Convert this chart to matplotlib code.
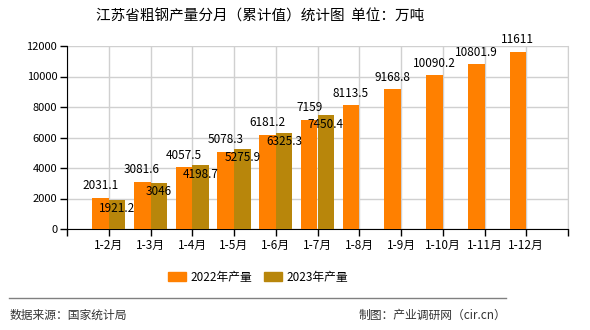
import matplotlib
matplotlib.use("Agg")
import matplotlib.pyplot as plt
from matplotlib.patches import Patch
import numpy as np

plt.rcParams['font.family'] = ['Noto Sans CJK SC', 'DejaVu Sans']

categories = ["1-2月", "1-3月", "1-4月", "1-5月", "1-6月", "1-7月", "1-8月", "1-9月", "1-10月", "1-11月", "1-12月"]
values_2022 = [2031.1, 3081.6, 4057.5, 5078.3, 6181.2, 7159, 8113.5, 9168.8, 10090.2, 10801.9, 11611]
values_2023 = [1921.2, 3046, 4198.7, 5275.9, 6325.3, 7450.4]
labels_2022 = ["2031.1", "3081.6", "4057.5", "5078.3", "6181.2", "7159", "8113.5", "9168.8", "10090.2", "10801.9", "11611"]
labels_2023 = ["1921.2", "3046", "4198.7", "5275.9", "6325.3", "7450.4"]
series_names = ["2022年产量", "2023年产量"]
yticks = [0, 2000, 4000, 6000, 8000, 10000, 12000]

c22 = "#FF8000"
c23 = "#B8860B"

fig = plt.figure(figsize=(5.9, 3.3), dpi=100)
ax = fig.add_axes([67/590, 1-229/330, 501/590, 183/330])

x = np.arange(len(categories))
w = 0.4
ax.bar(x - w/2, values_2022, w, color=c22, zorder=3)
x23 = np.arange(len(values_2023))
ax.bar(x23 + w/2, values_2023, w, color=c23, zorder=3)

ax.set_xlim(-1, len(categories))
ax.set_ylim(0, 12000)
ax.set_yticks(yticks)
ax.set_yticklabels([str(t) for t in yticks], fontsize=8)
ax.set_xticks(np.arange(-1, len(categories) + 1))
ax.set_xticklabels([""] + categories + [""], fontsize=8.5)
ax.tick_params(axis='both', length=5, width=1, color='black', pad=2)
ax.grid(True, color="#d0d0d0", linewidth=1, zorder=0)
ax.spines["top"].set_visible(False)
ax.spines["right"].set_color("#d0d0d0")
ax.spines["left"].set_color("black")
ax.spines["bottom"].set_color("black")

for i, (v, lab) in enumerate(zip(values_2022, labels_2022)):
    ax.annotate(lab, (x[i] - w/2, v), xytext=(0, 4), textcoords="offset points",
                ha="center", va="bottom", fontsize=8.5, zorder=5)
for i, (v, lab) in enumerate(zip(values_2023, labels_2023)):
    ax.annotate(lab, (x23[i] + w/2, v), xytext=(0, -2), textcoords="offset points",
                ha="center", va="top", fontsize=8.5, zorder=5)

fig.text(260/590, 1-17/330, "江苏省粗钢产量分月（累计值）统计图  单位：万吨", ha="center", va="center", fontsize=10.5)

handles = [Patch(color=c22), Patch(color=c23)]
fig.legend(handles, series_names, loc="center", bbox_to_anchor=(258/590, 1-277/330), ncol=2,
           frameon=False, fontsize=8.5, handlelength=1.5, handleheight=0.8, columnspacing=1.0, handletextpad=0.4)

fig.add_artist(plt.Line2D([9/590, 506/590], [1-298/330, 1-298/330], color="#808080", linewidth=1))
fig.text(10/590, 1-315/330, "数据来源：国家统计局", ha="left", va="center", fontsize=8.5, color="#333333")
fig.text(506/590, 1-315/330, "制图：产业调研网（cir.cn）", ha="right", va="center", fontsize=8.5, color="#333333")

fig.savefig("out.png", dpi=100)
